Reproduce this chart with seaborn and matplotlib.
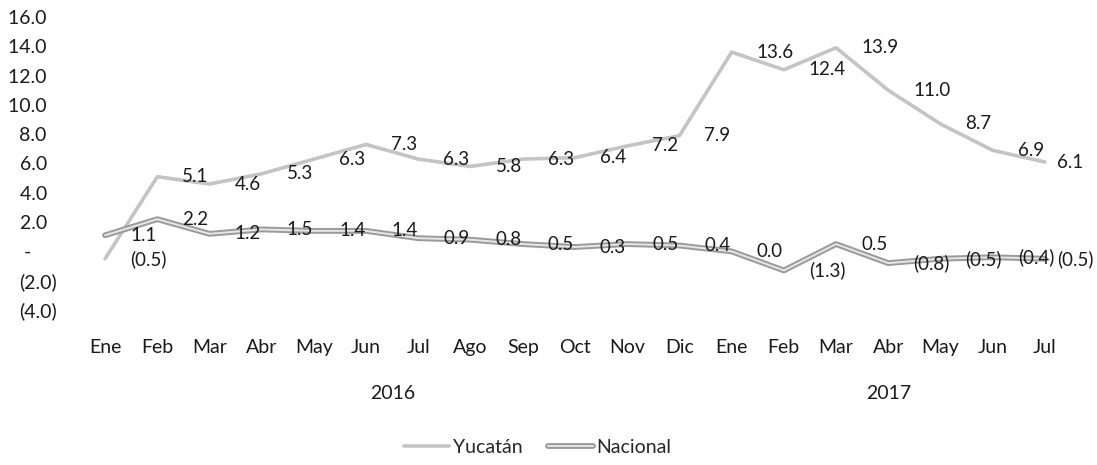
import matplotlib
matplotlib.use("Agg")
import matplotlib.pyplot as plt
import matplotlib.patheffects as pe
import matplotlib.transforms as mtransforms
from matplotlib.lines import Line2D
import seaborn as sns
import pandas as pd

# ---- data ----
meses = ["Ene", "Feb", "Mar", "Abr", "May", "Jun", "Jul", "Ago", "Sep", "Oct",
         "Nov", "Dic", "Ene", "Feb", "Mar", "Abr", "May", "Jun", "Jul"]
anios = ["2016", "2017"]
meses_por_anio = [12, 7]
yucatan = [-0.5, 5.1, 4.6, 5.3, 6.3, 7.3, 6.3, 5.8, 6.3, 6.4, 7.2, 7.9,
           13.6, 12.4, 13.9, 11.0, 8.7, 6.9, 6.1]
nacional = [1.1, 2.2, 1.2, 1.5, 1.4, 1.4, 0.9, 0.8, 0.5, 0.3, 0.5, 0.4,
            0.0, -1.3, 0.5, -0.8, -0.5, -0.4, -0.5]
series = ["Yucatán", "Nacional"]
yticks = [16, 14, 12, 10, 8, 6, 4, 2, 0, -2, -4]

sns.set_theme(style="white")
plt.rcParams["font.family"] = ["Lato", "DejaVu Sans"]

idx = list(range(len(meses)))
df = pd.DataFrame({
    "i": idx * 2,
    "valor": yucatan + nacional,
    "serie": [series[0]] * len(idx) + [series[1]] * len(idx),
})

fig = plt.figure(figsize=(10.97, 4.65), dpi=100)
ax = fig.add_axes([79 / 1097, 155 / 465, 992 / 1097, 293 / 465])

colors = {"Yucatán": "#c4c4c4", "Nacional": "#a6a6a6"}
sns.lineplot(data=df, x="i", y="valor", hue="serie", palette=colors,
             ax=ax, legend=False, linewidth=2.6, sort=False)

# Nacional drawn with a double-stroke look like the scanned original
nac_line = ax.get_lines()[1]
nac_line.set_linewidth(1.4)
nac_line.set_color("#e6e6e6")
nac_line.set_path_effects([pe.Stroke(linewidth=4.2, foreground="#9a9a9a"), pe.Normal()])


def fmt(v):
    return f"({abs(v):.1f})" if v < 0 else f"{v:.1f}"


last = len(meses) - 1
for vals in (yucatan, nacional):
    for i, v in enumerate(vals):
        off = 18 if i < last else 9
        ax.annotate(fmt(v), (i, v), xytext=(off, 0), textcoords="offset points",
                    ha="left", va="center", fontsize=13.5, color="#1a1a1a")

ax.set_xlim(-0.5, len(meses) - 0.5)
ax.set_ylim(-4, 16)
ax.set_xticks(idx)
ax.set_xticklabels(meses)
ax.set_yticks(yticks)


def ytl(v):
    if v > 0:
        return f"{v:.1f}  "
    if v < 0:
        return f"({abs(v):.1f})"
    return "-     "


ax.set_yticklabels([ytl(v) for v in yticks])
ax.tick_params(axis="x", length=0, pad=21, labelsize=14, labelcolor="#1a1a1a")
ax.tick_params(axis="y", length=0, pad=16, labelsize=14, labelcolor="#1a1a1a")
ax.set_xlabel("")
ax.set_ylabel("")
for s in ax.spines.values():
    s.set_visible(False)
ax.grid(False)

# year labels centred under their months
trans = mtransforms.blended_transform_factory(ax.transData, fig.transFigure)
start = 0
for anio, n in zip(anios, meses_por_anio):
    center = start + (n - 1) / 2
    ax.text(center, 1 - 393 / 465, anio, transform=trans,
            ha="center", va="center", fontsize=14, color="#1a1a1a")
    start += n

handles = [Line2D([], [], color=colors["Yucatán"], linewidth=2.6),
           Line2D([], [], color="#e6e6e6", linewidth=1.4,
                  path_effects=[pe.Stroke(linewidth=4.2, foreground="#9a9a9a"), pe.Normal()])]
fig.legend(handles, series, loc="center", bbox_to_anchor=(538 / 1097, 1 - 447 / 465),
           ncol=2, frameon=False, fontsize=14, handlelength=2.3, handletextpad=0.2,
           columnspacing=1.3)

fig.savefig("out.png", dpi=100)
